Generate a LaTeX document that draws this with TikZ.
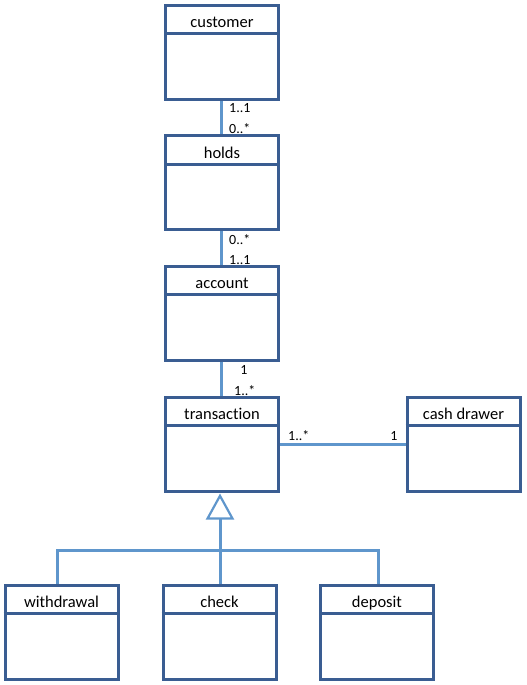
\documentclass[tikz,border=0pt]{standalone}
\usepackage{fontspec}
\setmainfont[Ligatures=NoCommon]{Carlito}
\usetikzlibrary{arrows.meta}
\definecolor{boxblue}{HTML}{3A5D92}
\definecolor{lineblue}{HTML}{5F96CC}
\tikzset{
  classbox/.style={draw=boxblue, line width=3pt, fill=white, minimum width=113pt, minimum height=94pt, inner sep=0pt},
  classtitle/.style={font=\fontsize{16.5}{18}\selectfont, anchor=base, inner sep=0pt},
  divider/.style={draw=boxblue, line width=3pt},
  conn/.style={draw=lineblue, line width=3pt},
  mult/.style={font=\fontsize{14}{15}\selectfont, inner sep=0pt, anchor=west},
}
\newcommand{\umlclass}[3]{%
  \node[classbox] (#1) at (#2) {};
  \node[classtitle] (#1-t) at ([yshift=-24pt]#1.north) {#3};
  \draw[divider] ([yshift=-30pt]#1.north west) -- ([yshift=-30pt]#1.north east);
}
\begin{document}
\begin{tikzpicture}[x=1pt,y=-1pt]
\useasboundingbox (0,0) rectangle (527,685);
\umlclass{customer}{222,52.5}{customer}
\umlclass{holds}{222,182.5}{holds}
\umlclass{account}{222,313}{account}
\umlclass{transaction}{222,444}{transaction}
\umlclass{cashdrawer}{463.5,444}{cash drawer}
\umlclass{withdrawal}{61.5,632}{withdrawal}
\umlclass{check}{219.5,632}{check}
\umlclass{deposit}{377,632}{deposit}

\coordinate (apex) at (220,493.5);
\coordinate (bus) at (220,550);
\coordinate (wtop) at (57,583.5);
\coordinate (dtop) at (378,583.5);

\draw[conn] ([xshift=-1pt]customer.south) -- ([xshift=-1pt]holds.north);
\draw[conn] ([xshift=-1pt]holds.south) -- ([xshift=-1pt]account.north);
\draw[conn] ([xshift=-1pt]account.south) -- ([xshift=-1pt]transaction.north);
\draw[conn] (transaction.east) -- (cashdrawer.west);
\draw[conn, -{Triangle[open, length=26pt, width=28pt, line width=2.2pt]}] (bus) -- (apex);
\draw[conn] (wtop) |- (bus) -| (dtop);
\draw[conn] (bus) -- (check.north -| bus);

\node[mult] (m1) at (229,108.5) {1..1};
\node[mult] (m2) at (229,128.5) {0..*};
\node[mult] (m3) at (229,239.5) {0..*};
\node[mult] (m4) at (229,260.5) {1..1};
\node[mult, anchor=center] (m5) at (244,369.5) {1};
\node[mult] (m6) at (234,390.5) {1..*};
\node[mult] (m7) at (288,435.5) {1..*};
\node[mult, anchor=center] (m8) at (394,435.5) {1};
\end{tikzpicture}
\end{document}
